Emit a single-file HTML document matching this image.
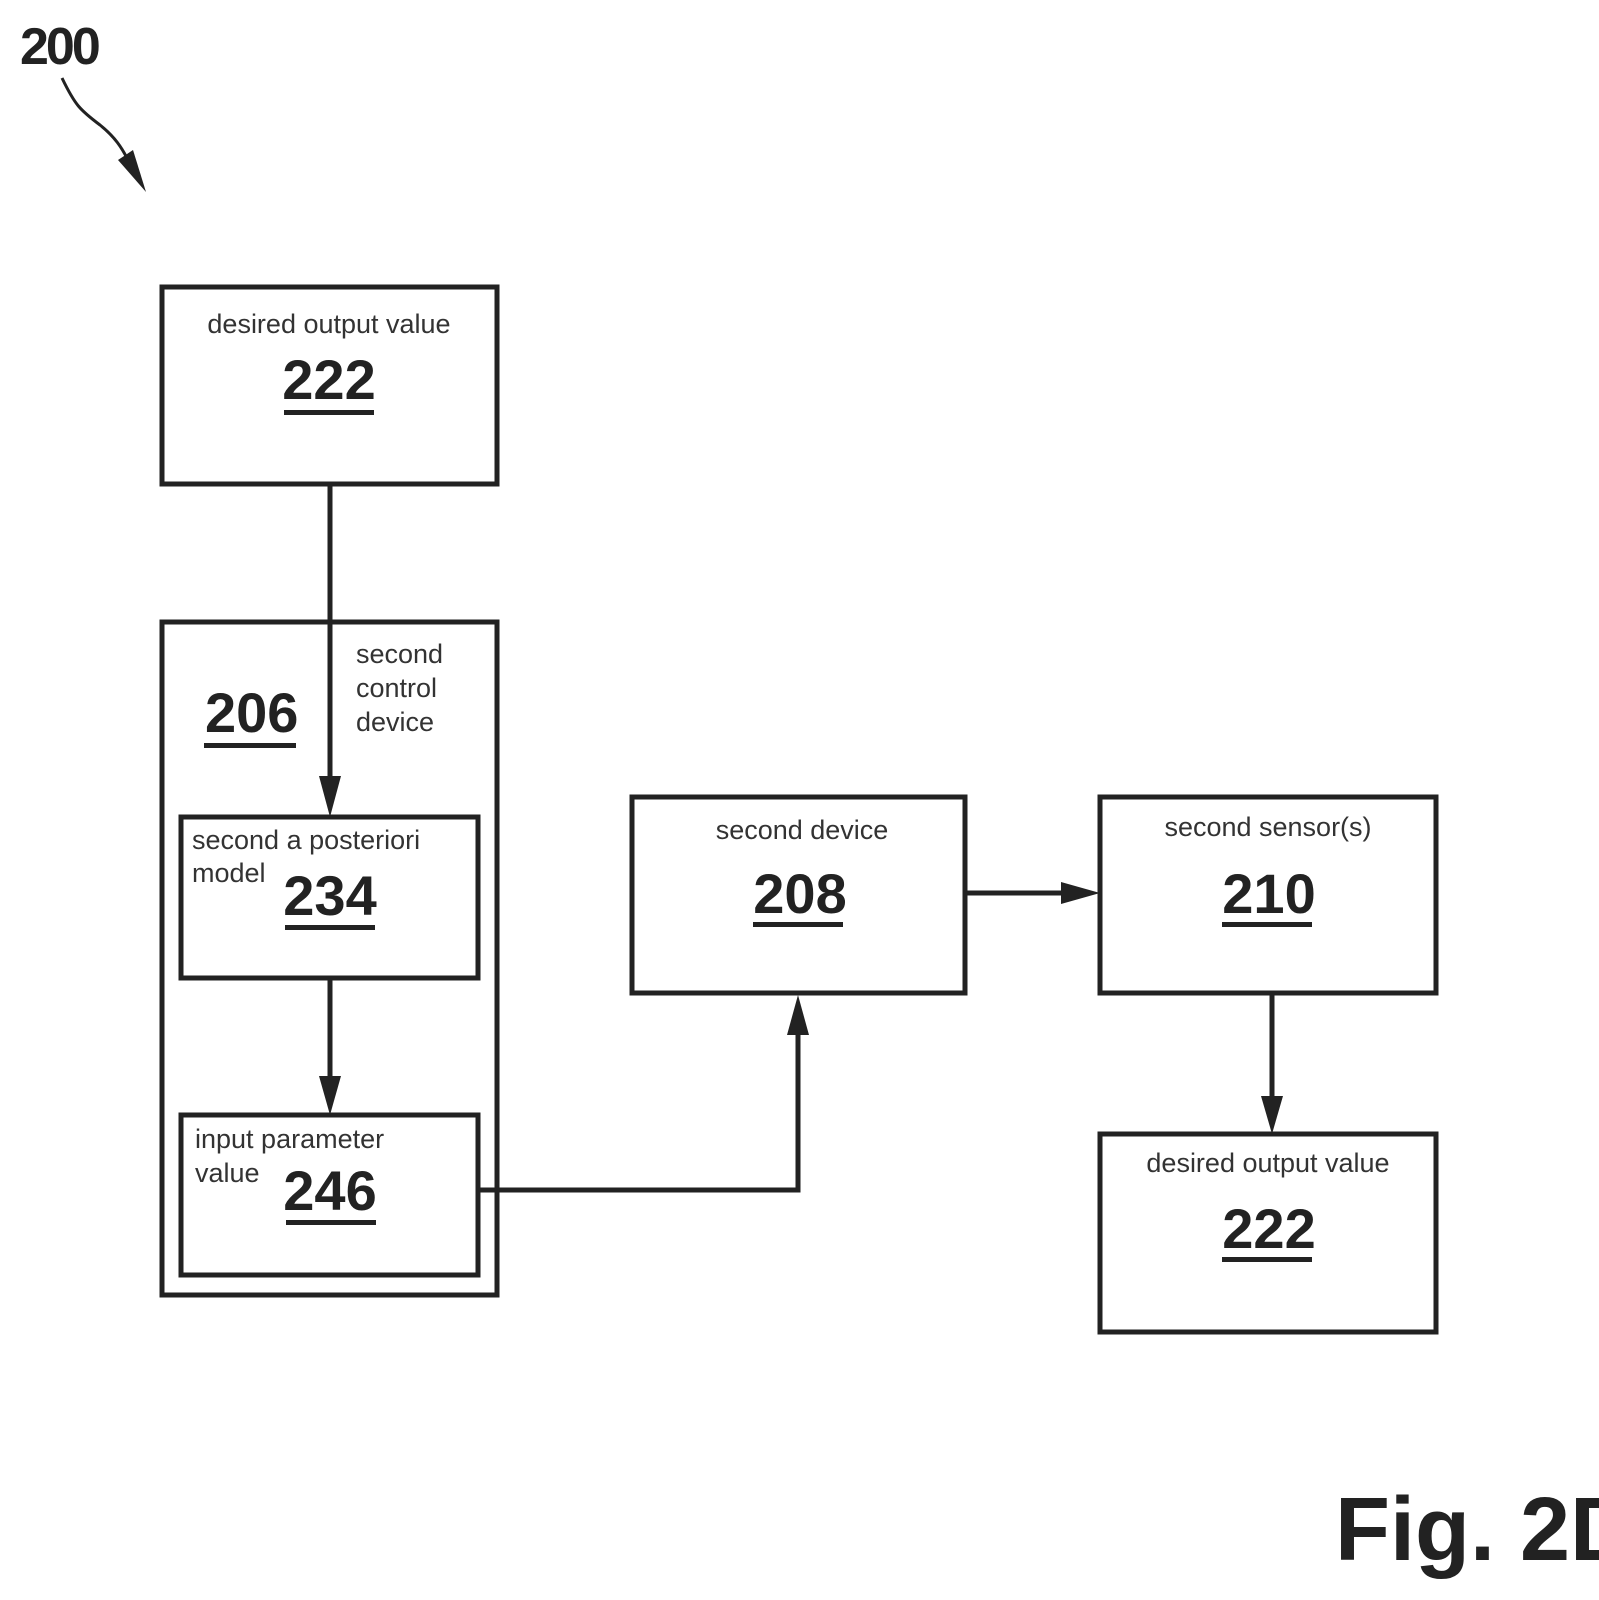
<!DOCTYPE html>
<html><head><meta charset="utf-8"><style>
html,body{margin:0;padding:0;background:#fff}
svg{display:block}
text{font-family:"Liberation Sans",sans-serif;fill:#222}
.l{font-size:27px;fill:#333}
.n{font-size:56px;font-weight:bold;fill:#222}
</style></head><body>
<svg width="1599" height="1600" viewBox="0 0 1599 1600" xmlns="http://www.w3.org/2000/svg">
<defs>
<marker id="a" viewBox="0 0 10 10" refX="10" refY="5" markerWidth="6" markerHeight="6" markerUnits="userSpaceOnUse" orient="auto">
</marker>
</defs>
<g fill="none" stroke="#222" stroke-width="5">
<rect x="162" y="287" width="335" height="197"/>
<rect x="162" y="622" width="335" height="673"/>
<rect x="181" y="817" width="297" height="161"/>
<rect x="181" y="1115" width="297" height="160"/>
<rect x="632" y="797" width="333" height="196"/>
<rect x="1100" y="797" width="336" height="196"/>
<rect x="1100" y="1134" width="336" height="198"/>
<!-- connectors -->
<line x1="330" y1="484" x2="330" y2="780"/>
<line x1="330" y1="978" x2="330" y2="1080"/>
<polyline points="478,1190 798,1190 798,1035"/>
<line x1="965" y1="893" x2="1065" y2="893"/>
<line x1="1272" y1="993" x2="1272" y2="1100"/>
<path d="M62,78 C75,105 80,110 100,125 C115,137 122,148 128,160" stroke-width="3"/>
</g>
<g fill="#222">
<polygon points="319,776 341,776 330,817"/>
<polygon points="319,1076 341,1076 330,1115"/>
<polygon points="787,1035 809,1035 798,995"/>
<polygon points="1061,882 1061,904 1100,893"/>
<polygon points="1261,1096 1283,1096 1272,1134"/>
<polygon points="118,160 133,150 146,192"/>
</g>
<text x="20" y="64" class="n" style="font-size:52px;letter-spacing:-3px">200</text>
<text x="329" y="333" class="l" text-anchor="middle">desired output value</text>
<text x="329" y="399" class="n" text-anchor="middle">222</text>
<rect x="284" y="410" width="90" height="5" fill="#222"/>
<text x="205" y="732" class="n">206</text>
<rect x="204" y="743" width="92" height="5" fill="#222"/>
<text x="356" y="663" class="l">second</text>
<text x="356" y="697" class="l">control</text>
<text x="356" y="731" class="l">device</text>
<text x="192" y="849" class="l">second a posteriori</text>
<text x="192" y="882" class="l">model</text>
<text x="330" y="915" class="n" text-anchor="middle">234</text>
<rect x="285" y="925" width="90" height="5" fill="#222"/>
<text x="195" y="1148" class="l">input parameter</text>
<text x="195" y="1182" class="l">value</text>
<text x="330" y="1210" class="n" text-anchor="middle">246</text>
<rect x="286" y="1220" width="90" height="5" fill="#222"/>
<text x="802" y="839" class="l" text-anchor="middle">second device</text>
<text x="800" y="913" class="n" text-anchor="middle">208</text>
<rect x="753" y="922" width="90" height="5" fill="#222"/>
<text x="1268" y="836" class="l" text-anchor="middle">second sensor(s)</text>
<text x="1269" y="913" class="n" text-anchor="middle">210</text>
<rect x="1222" y="922" width="90" height="5" fill="#222"/>
<text x="1268" y="1172" class="l" text-anchor="middle">desired output value</text>
<text x="1269" y="1248" class="n" text-anchor="middle">222</text>
<rect x="1222" y="1257" width="90" height="5" fill="#222"/>
<text x="1335" y="1560" style="font-size:90px;font-weight:bold;fill:#222">Fig. 2D</text>
</svg>
</body></html>
